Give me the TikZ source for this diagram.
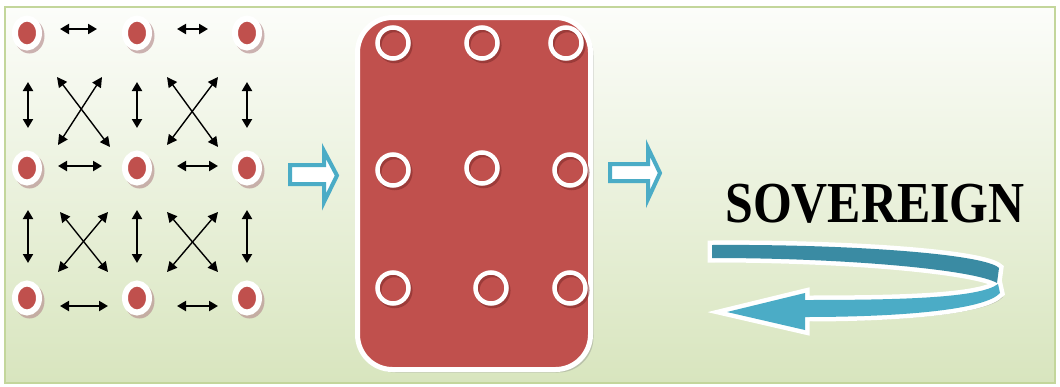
\documentclass[tikz,border=0pt]{standalone}
\usepackage{fontspec}
\setmainfont{Liberation Serif}
\usetikzlibrary{arrows.meta,shapes.geometric}
\definecolor{redfill}{HTML}{C0504D}
\definecolor{tealA}{HTML}{4BACC6}
\definecolor{tealB}{HTML}{3A8BA3}
\definecolor{bgtop}{HTML}{FCFDFA}
\definecolor{bgmid}{HTML}{F2F6EA}
\definecolor{bgbot}{HTML}{D8E5BE}
\definecolor{framec}{HTML}{C3D69B}
\definecolor{dotshadow}{HTML}{B99494}
\definecolor{ringshadow}{HTML}{7E2B29}
\tikzset{
  dotnode/.style={ellipse, fill=redfill, draw=white, line width=6pt,
    minimum width=24pt, minimum height=29pt, inner sep=0pt},
  ringnode/.style={circle, draw=white, line width=4.5pt, minimum size=31pt, inner sep=0pt},
  link/.style={line width=2pt, {Triangle[length=9pt,width=10pt]}-{Triangle[length=9pt,width=10pt]}},
  cross/.style={line width=1.4pt, {Triangle[length=10pt,width=10pt]}-{Triangle[length=10pt,width=10pt]}},
  blockarrow/.style={draw=tealA, fill=white, line width=4pt, line join=miter},
}
\begin{document}
\begin{tikzpicture}[x=1pt,y=-1pt]
\useasboundingbox (0,0) rectangle (1060,386);
\fill[white] (0,0) rectangle (1060,386);
% background panel
\shade[top color=bgtop, middle color=bgmid, bottom color=bgbot] (5,7) rectangle (1055,383);
\draw[framec, line width=1.2pt] (5,7) rectangle (1055,383);

% grid of dots
\foreach \c/\x in {1/27,2/137,3/247}{
  \foreach \r/\y in {1/33,2/168,3/298}{
    \fill[dotshadow, opacity=0.7] (\x+2.5,\y+3) ellipse (15pt and 17.5pt);
    \node[dotnode] (d\r\c) at (\x,\y) {};
  }
}
% horizontal links
\draw[link] (60,29) -- (97,29);
\draw[link] (177,29) -- (208,29);
\draw[link] (58,166) -- (102,166);
\draw[link] (177,166) -- (218,166);
\draw[link] (60,306) -- (108,306);
\draw[link] (177,306) -- (218,306);
% vertical links
\foreach \x in {28,137,247}{
  \draw[link] (\x,82) -- (\x,128);
  \draw[link] (\x,210) -- (\x,263);
}
% diagonal links
\draw[cross] (57,77) -- (110,147);
\draw[cross] (102,77) -- (58,145);
\draw[cross] (167,77) -- (218,147);
\draw[cross] (218,77) -- (167,145);
\draw[cross] (60,212) -- (108,272);
\draw[cross] (108,212) -- (58,272);
\draw[cross] (167,212) -- (218,272);
\draw[cross] (218,212) -- (167,272);

% first block arrow
\draw[blockarrow] (290,165) -- (324,165) -- (324,151) -- (337,175.5) -- (324,202) -- (324,184) -- (290,184) -- cycle;

% red panel
\fill[gray, opacity=0.35, rounded corners=35pt] (360.5,20.5) rectangle (593.5,372.5);
\draw[white, fill=redfill, line width=5pt, rounded corners=35pt] (357.5,17.5) rectangle (590.5,369.5);
\foreach \c/\x/\y in {1/393/43,2/482/43,3/566/43,4/393/170,5/482/168,6/570/170,7/393/288,8/491/288,9/570/288}{
  \draw[ringshadow, opacity=0.55, line width=4.5pt] (\x+1.8,\y+2.5) circle (15.5pt);
  \node[ringnode] (r\c) at (\x,\y) {};
}

% second block arrow
\draw[blockarrow] (610,164) -- (648,164) -- (648,148) -- (660,173) -- (648,199) -- (648,181) -- (610,181) -- cycle;

% title
\node[font=\bfseries\fontsize{58}{58}\selectfont, anchor=base, xscale=0.86] (title) at (875,222) {SOVEREIGN};

% curved return arrow
\def\lowerband{(998,284) .. controls (980,298) and (900,300) .. (805,300) -- (805,293) -- (727,312) -- (805,330) -- (805,317) .. controls (900,317) and (985,310) .. (1000,293) -- cycle}
\def\upperband{(712,245) .. controls (850,244) and (985,254) .. (999,268) -- (997,283) .. controls (975,270) and (850,258) .. (712,258) -- cycle}
\begin{scope}[shift={(3,4)}]
  \fill[gray, opacity=0.45] \lowerband;
  \fill[gray, opacity=0.45] \upperband;
\end{scope}
\draw[white, line width=9pt, line join=miter, miter limit=12] \lowerband;
\draw[white, line width=9pt, line join=miter, miter limit=12] \upperband;
\fill[tealA] \lowerband;
\fill[tealB] \upperband;
\end{tikzpicture}
\end{document}
